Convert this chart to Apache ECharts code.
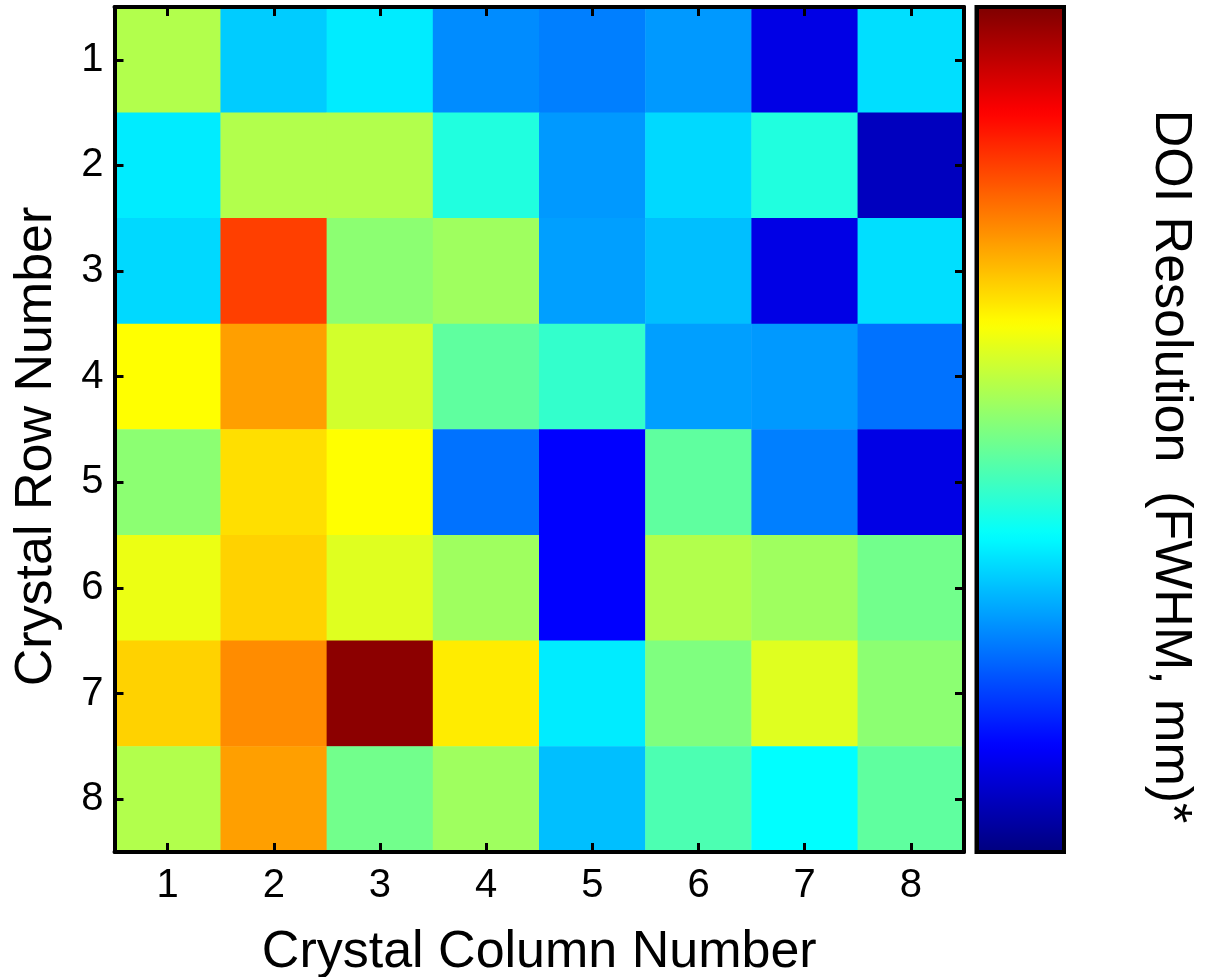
<!DOCTYPE html>
<html>
<head>
<meta charset="utf-8">
<script src="https://cdn.jsdelivr.net/npm/echarts@6/dist/echarts.min.js"></script>
<style>
  html, body { margin: 0; padding: 0; background: #fff; }
  #chart { width: 1205px; height: 977px; }
</style>
</head>
<body>
<div id="chart"></div>
<script>
// crystal columns (x) and rows (y, 1 at top)
var cols = ['1', '2', '3', '4', '5', '6', '7', '8'];
var rows = ['1', '2', '3', '4', '5', '6', '7', '8'];

// DOI resolution (FWHM, mm), one array per crystal row
var row1 = [3.04, 2.86, 2.885, 2.81, 2.80, 2.82, 2.68, 2.875];
var row2 = [2.885, 3.04, 3.04, 2.925, 2.82, 2.87, 2.925, 2.65];
var row3 = [2.87, 3.25, 3.01, 3.025, 2.825, 2.85, 2.68, 2.875];
var row4 = [3.10, 3.175, 3.065, 2.975, 2.94, 2.825, 2.82, 2.79];
var row5 = [3.01, 3.125, 3.10, 2.79, 2.70, 2.975, 2.80, 2.68];
var row6 = [3.085, 3.135, 3.075, 3.025, 2.70, 3.04, 3.025, 2.99];
var row7 = [3.135, 3.19, 3.39, 3.115, 2.885, 3.00, 3.075, 3.01];
var row8 = [3.04, 3.175, 2.99, 3.025, 2.85, 2.96, 2.90, 2.975];
var resolution = [row1, row2, row3, row4, row5, row6, row7, row8];

// colour bar range
var cMin = 2.6, cMax = 3.4, cStep = 0.1;

// MATLAB jet
var jet = ['#00007f', '#0000ff', '#007fff', '#00ffff', '#7fff7f',
           '#ffff00', '#ff7f00', '#ff0000', '#7f0000'];

(function() {
  var font = 'Liberation Sans, Arial, sans-serif';
  var data = [];
  resolution.forEach(function(r, ri) {
    r.forEach(function(v, ci) { data.push([ci, ri, v]); });
  });

  // plot box and colour bar box
  var G = {left: 114.5, top: 7, width: 849.5, height: 845};
  var CB = {left: 976.5, top: 7, width: 87.5, height: 845};

  var off = {show: false};
  function line() { return {show: true, lineStyle: {color: '#000', width: 4}}; }
  function tick() {
    return {show: true, inside: true, length: 9, alignWithLabel: true,
            lineStyle: {color: '#000', width: 3}};
  }
  function cbTick() { return {show: true, inside: true, length: 6, lineStyle: {color: '#000', width: 3}}; }
  function lab(m) { return {margin: m, color: '#000', fontSize: 40, fontFamily: font}; }

  // colour bar edges: two vertical single axes on the bar's box
  function cbAxis(pos, withLabels) {
    var a = {type: 'value', orient: 'vertical', position: pos, inverse: true,
             left: CB.left, top: CB.top, width: CB.width, height: CB.height,
             min: cMin, max: cMax, interval: cStep, zlevel: 1, z: 10,
             axisLine: line(), axisTick: cbTick(), splitLine: off, splitArea: off,
             axisPointer: off, axisLabel: off};
    if (withLabels) {
      a.axisLabel = Object.assign(lab(8), {showMaxLabel: false});
      a.name = 'DOI Resolution  (FWHM, mm)*';
      a.nameLocation = 'middle';
      a.nameGap = 80;
      a.nameRotate = -90;
      a.nameTextStyle = {color: '#000', fontSize: 52, fontFamily: font, padding: [0, 0, 0, 74]};
    }
    return a;
  }

  var chart = echarts.init(document.getElementById('chart'), null, {renderer: 'canvas'});
  chart.setOption({
    animation: false,
    backgroundColor: '#fff',
    grid: {left: G.left, top: G.top, width: G.width, height: G.height, outerBoundsMode: 'none'},
    xAxis: [
      {type: 'category', data: cols, position: 'bottom', zlevel: 1,
       axisLine: line(), axisTick: tick(), splitLine: off, splitArea: off, axisLabel: lab(14),
       name: 'Crystal Column Number', nameLocation: 'middle', nameGap: 75,
       nameTextStyle: {color: '#000', fontSize: 52, fontFamily: font}},
      {type: 'category', data: cols, position: 'top', zlevel: 1,
       axisLine: line(), axisTick: tick(), splitLine: off, splitArea: off, axisLabel: off}
    ],
    yAxis: [
      {type: 'category', data: rows, inverse: true, position: 'left', zlevel: 1,
       axisLine: line(), axisTick: tick(), splitLine: off, splitArea: off, axisLabel: lab(11),
       name: 'Crystal Row Number', nameLocation: 'middle', nameGap: 52,
       nameTextStyle: {color: '#000', fontSize: 52, fontFamily: font, padding: [0, 34, 0, 0]}},
      {type: 'category', data: rows, inverse: true, position: 'right', zlevel: 1,
       axisLine: line(), axisTick: tick(), splitLine: off, splitArea: off, axisLabel: off}
    ],
    singleAxis: [cbAxis('left', false), cbAxis('right', true)],
    visualMap: {
      type: 'continuous', min: cMin, max: cMax, seriesIndex: 0,
      calculable: false, orient: 'vertical', left: CB.left, top: CB.top, padding: 0,
      itemWidth: CB.width, itemHeight: CB.height, text: null, showLabel: false, hoverLink: false,
      inRange: {color: jet}
    },
    graphic: [{
      type: 'rect', zlevel: 1, z: 100, silent: true,
      shape: {x: CB.left, y: CB.top, width: CB.width, height: CB.height},
      style: {fill: null, stroke: '#000', lineWidth: 4}
    }],
    series: [{
      type: 'heatmap', xAxisIndex: 0, yAxisIndex: 0, data: data,
      itemStyle: {borderWidth: 0}, emphasis: {disabled: true}
    }]
  });
  window.addEventListener('resize', function() { chart.resize(); });
})();
</script>
</body>
</html>
